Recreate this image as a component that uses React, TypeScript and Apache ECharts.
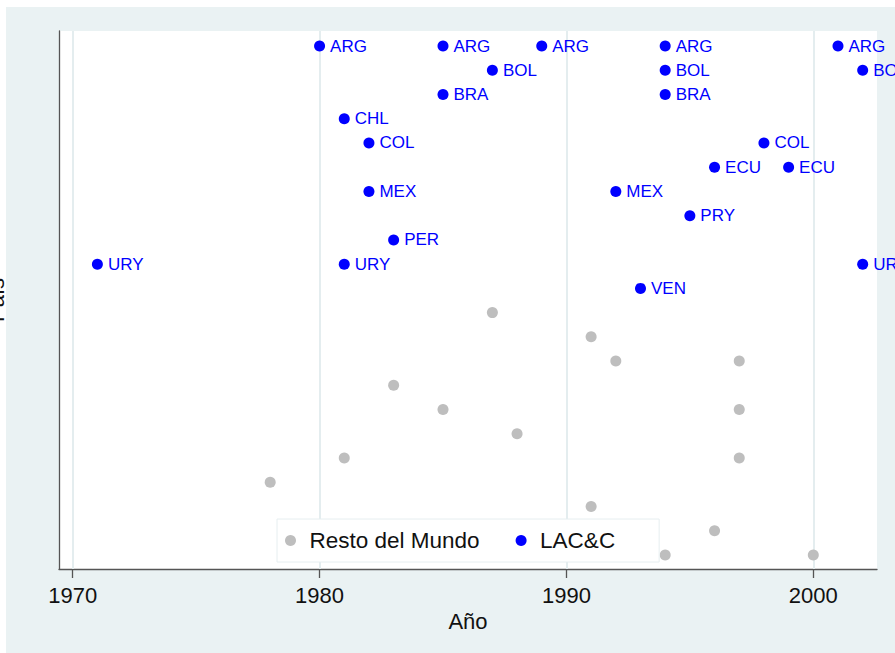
import React, { useEffect, useRef } from "react";
import * as echarts from "echarts";

// Country rows (top to bottom) for LAC&C
const countries = ["ARG", "BOL", "BRA", "CHL", "COL", "ECU", "MEX", "PRY", "PER", "URY", "VEN"];

// LAC&C observations
const lacCodes = ["ARG", "ARG", "ARG", "ARG", "ARG", "BOL", "BOL", "BOL", "BRA", "BRA", "CHL", "COL", "COL", "ECU", "ECU", "MEX", "MEX", "PRY", "PER", "URY", "URY", "URY", "VEN"];
const lacYears = [1980, 1985, 1989, 1994, 2001, 1987, 1994, 2002, 1985, 1994, 1981, 1982, 1998, 1996, 1999, 1982, 1992, 1995, 1983, 1971, 1981, 2002, 1993];

// Rest of the world observations (rows below LAC&C)
const restRows = [12, 13, 14, 14, 15, 16, 16, 17, 18, 18, 19, 20, 21, 22, 22];
const restYears = [1987, 1991, 1992, 1997, 1983, 1985, 1997, 1988, 1981, 1997, 1978, 1991, 1996, 1994, 2000];

// X axis ticks
const xTicks = [1970, 1980, 1990, 2000];

const FONT = "Liberation Sans, Arial, Helvetica, sans-serif";
const BG = "#EAF2F3";

export default function App() {
  const ref = useRef<HTMLDivElement>(null);
  useEffect(() => {
    if (!ref.current) return;
    const chart = echarts.init(ref.current, undefined, { renderer: "svg" });
    const lacData = lacYears.map((y, i) => ({
      value: [y, countries.indexOf(lacCodes[i]) + 1],
      label: { formatter: lacCodes[i] },
    }));
    const restData = restYears.map((y, i) => [y, restRows[i]]);
    chart.setOption({
      animation: false,
      backgroundColor: "#ffffff",
      textStyle: { fontFamily: FONT },
      graphic: [
        {
          type: "rect",
          shape: { x: 6, y: 7, width: 889, height: 646 },
          style: { fill: BG },
          z: -10,
          silent: true,
        },
      ],
      grid: {
        left: 59,
        top: 31,
        right: 18,
        bottom: 84,
        show: true,
        containLabel: false,
        outerBoundsMode: "none",
        backgroundColor: "#ffffff",
        borderWidth: 0,
      },
      legend: {
        left: 277,
        top: 519,
        orient: "horizontal",
        data: ["Resto del Mundo", "LAC&C"],
        icon: "circle",
        itemWidth: 28,
        itemHeight: 11,
        itemGap: 36,
        padding: [10, 44, 10, 8],
        backgroundColor: "#ffffff",
        borderColor: "#E6EEF0",
        borderWidth: 1,
        textStyle: { fontSize: 22.5, color: "#111", fontFamily: FONT },
      },
      xAxis: {
        type: "value",
        min: 1969.445,
        max: 2002.58,
        name: "Año",
        nameLocation: "middle",
        nameGap: 35,
        nameTextStyle: { fontSize: 22, color: "#111", fontFamily: FONT },
        axisLine: { show: true, lineStyle: { color: "#555", width: 1.3 } },
        axisTick: { show: true, customValues: xTicks, length: 9, lineStyle: { color: "#555", width: 1.3 } },
        axisLabel: {
          customValues: xTicks,
          formatter: (v: number) => String(v),
          fontSize: 22,
          color: "#111",
          margin: 15,
          fontFamily: FONT,
        },
        splitLine: { show: false },
      },
      yAxis: {
        type: "value",
        inverse: true,
        min: 0.381,
        max: 22.578,
        name: "País",
        nameLocation: "middle",
        nameGap: 52,
        nameTextStyle: { fontSize: 22, color: "#111", fontFamily: FONT },
        axisLine: { show: true, lineStyle: { color: "#555", width: 1.3 } },
        axisTick: { show: false },
        axisLabel: { show: false },
        splitLine: { show: false },
      },
      series: [
        {
          name: "Resto del Mundo",
          type: "scatter",
          symbol: "circle",
          symbolSize: 11,
          itemStyle: { color: "#BEBEBE", opacity: 1 },
          data: restData,
          z: 3,
          markLine: {
            silent: true,
            symbol: "none",
            label: { show: false },
            lineStyle: { color: "#E4EDEF", width: 2, type: "solid" },
            data: xTicks.map((t) => ({ xAxis: t })),
            z: 1,
          },
        },
        {
          name: "LAC&C",
          type: "scatter",
          symbol: "circle",
          symbolSize: 11,
          itemStyle: { color: "#0000FF", opacity: 1 },
          label: {
            show: true,
            position: "right",
            distance: 5,
            fontSize: 17,
            color: "#0000FF",
            fontFamily: FONT,
          },
          data: lacData,
          z: 4,
        },
      ],
    });
    return () => chart.dispose();
  }, []);
  return (
    <div
      ref={ref}
      style={{ position: "fixed", left: 0, top: 0, width: 895, height: 653 }}
    />
  );
}
